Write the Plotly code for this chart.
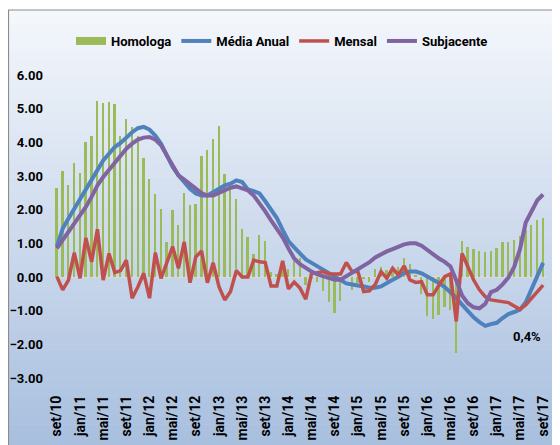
import plotly.graph_objects as go

# meses (pt) e inicio da série: set/2010 a set/2017
meses = ["jan", "fev", "mar", "abr", "mai", "jun", "jul", "ago", "set", "out", "nov", "dez"]
ano_ini, mes_ini, n_meses = 2010, 8, 85
categorias = []
for k in range(n_meses):
    m = (mes_ini + k) % 12
    a = ano_ini + (mes_ini + k) // 12
    categorias.append(f"{meses[m]}/{a % 100:02d}")
tick_labels = categorias[::4]

homologa = [2.64, 3.14, 2.74, 3.39, 3.10, 4.01, 4.19, 5.24, 5.18, 5.21,
            5.14, 4.19, 4.69, 4.45, 4.19, 3.54, 2.92, 2.46, 2.01, 1.04,
            1.98, 1.54, 2.49, 2.13, 2.18, 3.58, 3.76, 4.11, 4.48, 3.07,
            2.58, 2.31, 1.44, 1.19, 0.68, 1.26, 1.07, 0.15, 0.10, 0.20,
            0.25, 0.48, 0.56, -0.24, -0.05, -0.15, -0.41, -0.73, -1.06, -0.72,
            0.05, -0.40, -0.18, -0.05, -0.16, 0.23, 0.31, 0.22, 0.31, 0.31,
            0.55, 0.40, 0.03, -0.50, -1.17, -1.25, -1.14, -0.89, -0.98, -2.25,
            1.07, 0.90, 0.83, 0.78, 0.73, 0.78, 0.85, 1.03, 1.04, 1.10,
            1.23, 1.39, 1.54, 1.69, 1.76]

media_anual = [0.90, 1.44, 1.74, 2.03, 2.33, 2.62, 2.92, 3.20, 3.46, 3.66,
               3.86, 3.98, 4.15, 4.30, 4.42, 4.46, 4.38, 4.20, 3.96, 3.62,
               3.27, 3.02, 2.82, 2.62, 2.48, 2.42, 2.42, 2.52, 2.65, 2.72,
               2.77, 2.87, 2.82, 2.60, 2.55, 2.48, 2.25, 2.02, 1.75, 1.40,
               1.07, 0.88, 0.72, 0.52, 0.42, 0.32, 0.22, 0.12, 0.02, -0.10,
               -0.19, -0.22, -0.24, -0.28, -0.32, -0.32, -0.28, -0.17, -0.08, 0.01,
               0.12, 0.16, 0.16, 0.11, 0.02, -0.06, -0.18, -0.30, -0.45, -0.62,
               -0.82, -1.02, -1.20, -1.34, -1.45, -1.40, -1.36, -1.22, -1.10, -1.04,
               -0.97, -0.75, -0.38, 0.01, 0.42]

mensal = [0.01, -0.38, -0.09, 0.72, -0.04, 1.16, 0.45, 1.42, -0.09, 0.70,
          0.13, 0.19, 0.50, -0.63, -0.29, 0.11, -0.63, 0.72, -0.04, 0.40,
          0.90, 0.26, 1.04, -0.17, 0.60, 0.77, -0.17, 0.42, -0.29, -0.68,
          -0.43, 0.19, 0.00, 0.00, 0.50, 0.45, 0.43, -0.27, -0.27, 0.48,
          -0.35, -0.15, -0.33, -0.66, 0.11, 0.13, 0.16, 0.09, 0.09, 0.09,
          0.43, 0.16, 0.16, -0.43, -0.41, -0.22, 0.16, -0.04, 0.26, 0.06,
          0.33, -0.09, -0.16, -0.14, -0.53, -0.53, -0.24, 0.01, 0.09, -1.32,
          0.70, 0.31, -0.09, -0.38, -0.58, -0.68, -0.70, -0.73, -0.76, -0.86,
          -0.96, -0.83, -0.63, -0.43, -0.24]

subjacente = [0.85, 1.09, 1.34, 1.59, 1.83, 2.08, 2.38, 2.72, 2.97, 3.17,
              3.41, 3.61, 3.81, 3.96, 4.08, 4.14, 4.16, 4.08, 3.91, 3.61,
              3.32, 3.02, 2.89, 2.75, 2.62, 2.49, 2.42, 2.42, 2.50, 2.59,
              2.65, 2.69, 2.62, 2.57, 2.42, 2.20, 1.95, 1.68, 1.42, 1.18,
              0.85, 0.55, 0.38, 0.26, 0.16, 0.08, 0.03, -0.03, -0.08, -0.08,
              0.02, 0.12, 0.23, 0.34, 0.44, 0.58, 0.68, 0.76, 0.83, 0.90,
              0.97, 1.00, 1.00, 0.93, 0.80, 0.66, 0.55, 0.45, 0.31, -0.10,
              -0.55, -0.78, -0.90, -0.93, -0.80, -0.45, -0.38, -0.22, -0.02, 0.30,
              0.82, 1.62, 1.98, 2.28, 2.45]

fnt = "Roboto, Liberation Sans, sans-serif"

fig = go.Figure()
fig.add_trace(go.Bar(x=categorias, y=homologa, name="Homologa", width=0.32,
                     marker=dict(color="#9bbb59", line=dict(width=0)), showlegend=False))
# entrada de legenda para as barras
fig.add_trace(go.Scatter(x=[None], y=[None], mode="lines", name="Homologa",
                         line=dict(color="#9bbb59", width=8)))
fig.add_trace(go.Scatter(x=categorias, y=media_anual, name="Média Anual", mode="lines",
                         line=dict(color="#4f81bd", width=4)))
fig.add_trace(go.Scatter(x=categorias, y=mensal, name="Mensal", mode="lines",
                         line=dict(color="#c0504d", width=3.5)))
fig.add_trace(go.Scatter(x=categorias, y=subjacente, name="Subjacente", mode="lines",
                         line=dict(color="#8064a2", width=4)))

# a página tem 8px de margem no body, por isso a figura é 552x437
W, H = 552, 437
px_l, px_r, px_t, px_b = 46, 538, 67, 370
def to_paper(x, y):
    return (x - px_l) / (px_r - px_l), (px_b - y) / (px_b - px_t)

# fundo em gradiente (faixas)
shapes = []
top_c, bot_c = (244, 247, 252), (168, 191, 222)
n = 60
y_a, y_b = 2, H + 1
for k in range(n):
    t = k / (n - 1)
    c = tuple(round(top_c[j] + (bot_c[j] - top_c[j]) * t) for j in range(3))
    ya = y_a + (y_b - y_a) * k / n
    yb = y_a + (y_b - y_a) * (k + 1) / n + 0.6
    x0, y0 = to_paper(0, ya)
    x1, y1 = to_paper(W + 2, yb)
    shapes.append(dict(type="rect", xref="paper", yref="paper", x0=x0, x1=x1, y0=y0, y1=y1,
                       fillcolor=f"rgb{c}", line=dict(width=0), layer="below"))
bx0, by0 = to_paper(0.5, 2)
bx1, by1 = to_paper(W + 5, H + 5)
shapes.append(dict(type="rect", xref="paper", yref="paper", x0=bx0, x1=bx1, y0=by1, y1=by0,
                   line=dict(color="#8c8c8c", width=1.2), fillcolor="rgba(0,0,0,0)", layer="above"))

lx, ly = to_paper(63, 33)
fig.update_layout(
    width=W, height=H,
    margin=dict(l=px_l, r=W - px_r, t=px_t, b=H - px_b, autoexpand=False),
    paper_bgcolor="white",
    plot_bgcolor="rgba(0,0,0,0)",
    shapes=shapes,
    bargap=0,
    font=dict(family=fnt, size=13, color="black"),
    legend=dict(orientation="h", x=lx, xanchor="left", y=ly, yanchor="middle",
                font=dict(family=fnt, size=13, weight="bold"), bgcolor="rgba(0,0,0,0)",
                itemwidth=30, tracegroupgap=0),
    xaxis=dict(type="category", range=[-0.5, len(categorias) - 0.5], automargin=False,
               tickmode="array", tickvals=tick_labels, ticktext=tick_labels,
               tickangle=-90, showgrid=False, showline=False, zeroline=False,
               ticks="", ticklabelstandoff=14,
               tickfont=dict(family=fnt, size=14, weight="bold")),
    yaxis=dict(range=[-3, 6], dtick=1, tickformat=".2f", showgrid=False, automargin=False,
               zeroline=True, zerolinecolor="#d9d9d9", zerolinewidth=1.5,
               showline=False, ticks="", ticklabelstandoff=10,
               tickfont=dict(family=fnt, size=13, weight="bold")),
    annotations=[dict(x=0.994, xref="paper", y=-1.78, yref="y", text="0,4%",
                      showarrow=False, font=dict(family=fnt, size=13, weight="bold"))],
)

fig.write_html("out.html")
